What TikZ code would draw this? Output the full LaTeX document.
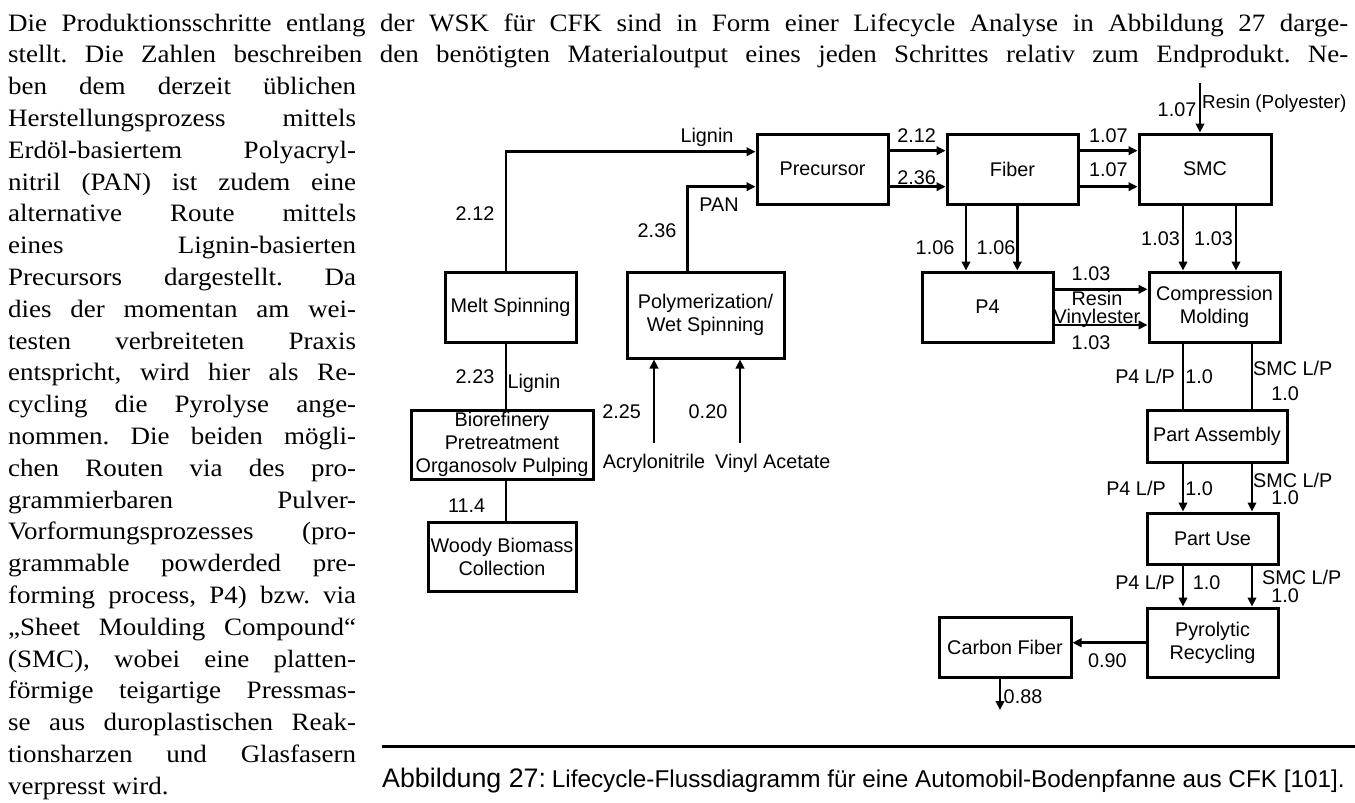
\documentclass[tikz,border=0pt]{standalone}
\usepackage{fontspec}
\setmainfont[FakeStretch=1.08]{Liberation Serif}
\newfontfamily\diafont{Liberation Sans}
\usetikzlibrary{arrows.meta,calc}
\newcommand\dbox[6]{\node[box, minimum width={#4-#2}, minimum height={#5-#3}] (#1) at ({(#2+#4)/2},{(#3+#5)/2}) {#6};}
\newcommand\blin[4]{\node[bodytext] (#1) at (8,#2) {\makebox[#3pt][s]{#4}};}
\frenchspacing
\begin{document}
\begin{tikzpicture}[x=1pt,y=-1pt,
  box/.style={draw=black, line width=3pt, inner sep=0pt, align=center,
    font=\diafont\fontsize{19.8}{23}\selectfont},
  lab/.style={inner sep=0pt, text height=14.2pt, text depth=0pt,
    font=\diafont\fontsize{19.8}{23}\selectfont},
  con/.style={line width=2.8pt, draw=black},
  arr/.style={con, -{Triangle[length=9pt,width=8.5pt]}},
  bodytext/.style={anchor=base west, inner sep=0pt,
    font=\fontsize{25}{31.8}\selectfont},
  captext/.style={anchor=base west, inner sep=0pt,
    font=\diafont\fontsize{24.3}{28}\selectfont}]
\useasboundingbox (0,0) rectangle (1355,803);

% ---------------- body text ----------------
\blin{t1}{31}{1340}{Die Produktionsschritte entlang der WSK für CFK sind in Form einer Lifecycle Analyse in Abbildung 27 darge-}
\blin{t2}{62.8}{1340}{stellt. Die Zahlen beschreiben den benötigten Materialoutput eines jeden Schrittes relativ zum Endprodukt. Ne-}
\blin{t3}{94.6}{348}{ben dem derzeit üblichen}
\blin{t4}{126.4}{348}{Herstellungsprozess mittels}
\blin{t5}{158.2}{348}{Erdöl-basiertem Polyacryl-}
\blin{t6}{190}{348}{nitril (PAN) ist zudem eine}
\blin{t7}{221.8}{348}{alternative Route mittels}
\blin{t8}{253.6}{348}{eines Lignin-basierten}
\blin{t9}{285.4}{348}{Precursors dargestellt. Da}
\blin{t10}{317.2}{348}{dies der momentan am wei-}
\blin{t11}{349}{348}{testen verbreiteten Praxis}
\blin{t12}{380.8}{348}{entspricht, wird hier als Re-}
\blin{t13}{412.6}{348}{cycling die Pyrolyse ange-}
\blin{t14}{444.4}{348}{nommen. Die beiden mögli-}
\blin{t15}{476.2}{348}{chen Routen via des pro-}
\blin{t16}{508}{348}{grammierbaren Pulver-}
\blin{t17}{539.8}{348}{Vorformungsprozesses (pro-}
\blin{t18}{571.6}{348}{grammable powderded pre-}
\blin{t19}{603.4}{348}{forming process, P4) bzw. via}
\blin{t20}{635.2}{348}{„Sheet Moulding Compound“}
\blin{t21}{667}{348}{(SMC), wobei eine platten-}
\blin{t22}{698.8}{348}{förmige teigartige Pressmas-}
\blin{t23}{730.6}{348}{se aus duroplastischen Reak-}
\blin{t24}{762.4}{348}{tionsharzen und Glasfasern}
\node[bodytext] (t25) at (8,794.2) {verpresst wird.};

% ---------------- boxes ----------------
\dbox{prec}{757}{134}{888}{204}{Precursor}
\dbox{fiber}{947}{134}{1078}{204}{Fiber}
\dbox{smc}{1139}{134}{1271}{204}{SMC}
\dbox{melt}{445}{272}{576}{342}{Melt Spinning}
\dbox{poly}{627}{272}{784}{358}{Polymerization/\\Wet Spinning}
\dbox{bio}{411}{410}{593}{479}{Biorefinery\\Pretreatment\\Organosolv Pulping}
\dbox{woody}{428}{522}{576}{591}{Woody Biomass\\Collection}
\dbox{p4}{922}{272}{1053}{342}{P4}
\dbox{comp}{1149}{272}{1280}{342}{Compression\\Molding}
\dbox{pa}{1147}{410}{1287}{462}{Part Assembly}
\dbox{pu}{1147}{513}{1278}{564}{Part Use}
\dbox{pyro}{1147}{608}{1278}{677}{Pyrolytic\\Recycling}
\dbox{cf}{939}{617}{1071}{677}{Carbon Fiber}

% ---------------- helper coordinates ----------------
\coordinate (lg) at (506,151.7);
\coordinate (pn) at (687.7,186.7);
\coordinate (acrtop) at (654,443);
\coordinate (vintop) at (740,443);
\coordinate (ya) at (0,150.7);
\coordinate (yb) at (0,186.7);
\coordinate (rs) at (1200,83);
\coordinate (fa) at (966,0);
\coordinate (fb) at (1017.3,0);
\coordinate (sa) at (1183,0);
\coordinate (sb) at (1236,0);
\coordinate (pya) at (0,289.3);
\coordinate (pyb) at (0,325);
\coordinate (ca) at (1183,0);
\coordinate (cb) at (1252,0);
\coordinate (yr) at (0,642.7);
\coordinate (cfo) at (1000,710);

% ---------------- connectors ----------------
\draw[arr] (melt.north -| lg) |- (prec.west |- lg);
\draw[arr] (poly.north -| pn) |- (prec.west |- pn);
\draw[con] (bio.north -| lg) -- (melt.south -| lg);
\draw[con] (woody.north -| lg) -- (bio.south -| lg);
\draw[arr] (acrtop) -- (poly.south -| acrtop);
\draw[arr] (vintop) -- (poly.south -| vintop);
\draw[arr] (prec.east |- ya) -- (fiber.west |- ya);
\draw[arr] (prec.east |- yb) -- (fiber.west |- yb);
\draw[arr] (fiber.east |- ya) -- (smc.west |- ya);
\draw[arr] (fiber.east |- yb) -- (smc.west |- yb);
\draw[arr] (rs) -- (smc.north -| rs);
\draw[arr] (fiber.south -| fa) -- (p4.north -| fa);
\draw[arr] (fiber.south -| fb) -- (p4.north -| fb);
\draw[arr] (smc.south -| sa) -- (comp.north -| sa);
\draw[arr] (smc.south -| sb) -- (comp.north -| sb);
\draw[arr] (p4.east |- pya) -- (comp.west |- pya);
\draw[arr] (p4.east |- pyb) -- (comp.west |- pyb);
\draw[con] (comp.south -| ca) -- (pa.north -| ca);
\draw[con] (comp.south -| cb) -- (pa.north -| cb);
\draw[arr] (pa.south -| ca) -- (pu.north -| ca);
\draw[arr] (pa.south -| cb) -- (pu.north -| cb);
\draw[arr] (pu.south -| ca) -- (pyro.north -| ca);
\draw[arr] (pu.south -| cb) -- (pyro.north -| cb);
\draw[arr] (pyro.west |- yr) -- (cf.east |- yr);
\draw[arr, line width=2.2pt] (cf.south -| cfo) -- (cfo);

% ---------------- labels ----------------
\node[lab] (lLig1) at (707,135) {Lignin};
\node[lab] (l212a) at (475,213) {2.12};
\node[lab] (lPAN) at (719,204) {PAN};
\node[lab] (l236a) at (657,230.7) {2.36};
\node[lab] (l223) at (475,376) {2.23};
\node[lab] (lLig2) at (534,381) {Lignin};
\node[lab] (l114) at (466.7,505) {11.4};
\node[lab] (l225) at (621.7,411.7) {2.25};
\node[lab] (l020) at (708,411.7) {0.20};
\node[lab] (lAcr) at (654,461.7) {Acrylonitrile};
\node[lab] (lVin) at (772.8,461.7) {Vinyl Acetate};
\node[lab] (l212b) at (916.7,135.7) {2.12};
\node[lab] (l236b) at (916.7,177.3) {2.36};
\node[lab] (l107a) at (1108.3,135.7) {1.07};
\node[lab] (l107b) at (1108.3,169) {1.07};
\node[lab] (l107c) at (1177,109) {1.07};
\node[lab, anchor=west, font=\diafont\fontsize{18.8}{22}\selectfont] (lRes) at (1202,101.7) {Resin (Polyester)};
\node[lab] (l106a) at (935,247.3) {1.06};
\node[lab] (l106b) at (996,247.3) {1.06};
\node[lab] (l103a) at (1160.5,238.3) {1.03};
\node[lab] (l103b) at (1213.5,238.3) {1.03};
\node[lab] (l103c) at (1091,273.3) {1.03};
\node[lab] (lResin) at (1097,298.3) {Resin};
\node[lab] (lViny) at (1097,316.5) {Vinylester};
\node[lab] (l103d) at (1091,342.7) {1.03};
\node[lab] (lp4a) at (1145,376) {P4 L/P};
\node[lab] (l10a) at (1199,376) {1.0};
\node[lab] (lsmca) at (1292.7,368.3) {SMC L/P};
\node[lab] (l10b) at (1285,393.3) {1.0};
\node[lab] (lp4b) at (1136,488.3) {P4 L/P};
\node[lab] (l10c) at (1199,488.3) {1.0};
\node[lab] (lsmcb) at (1292.7,480) {SMC L/P};
\node[lab] (l10d) at (1285,497.3) {1.0};
\node[lab] (lp4c) at (1145,582.7) {P4 L/P};
\node[lab] (l10e) at (1206.7,582.7) {1.0};
\node[lab] (lsmcc) at (1301.7,577.3) {SMC L/P};
\node[lab] (l10f) at (1285,595) {1.0};
\node[lab] (l090) at (1107.3,660) {0.90};
\node[lab] (l088) at (1023,696) {0.88};

% ---------------- caption ----------------
\coordinate (rl) at (382,746.7);
\coordinate (rr) at (1355,746.7);
\draw[line width=3pt] (rl) -- (rr);
\node[captext, font=\diafont\fontsize{26.8}{30}\selectfont] (capA) at (382,787.3) {Abbildung 27:};
\node[captext] (capB) at (551.7,787.3) {Lifecycle-Flussdiagramm für eine Automobil-Bodenpfanne aus CFK [101].};
\end{tikzpicture}
\end{document}
